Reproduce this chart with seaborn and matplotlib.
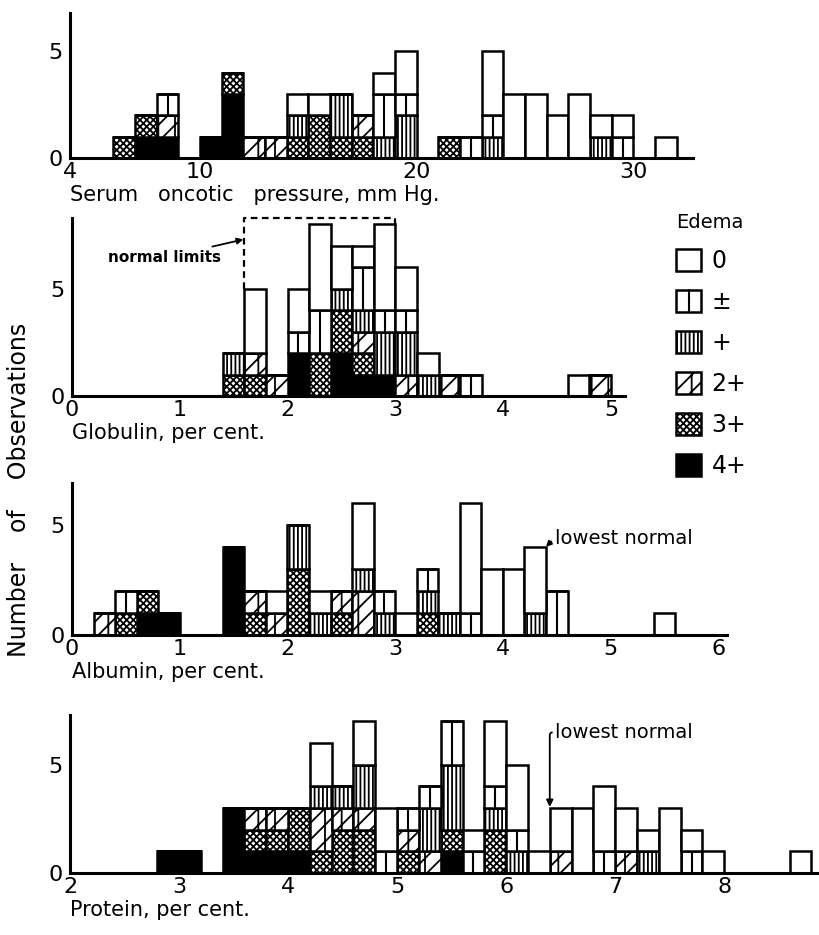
import numpy as np
import pandas as pd
import matplotlib
matplotlib.use("Agg")
import matplotlib.pyplot as plt
import seaborn as sns
from matplotlib.patches import Patch
from matplotlib.lines import Line2D
from matplotlib.legend_handler import HandlerPatch

# ---------------- data ----------------
edema_levels = ["0", "±", "+", "2+", "3+", "4+"]

# Serum oncotic pressure, mm Hg  (bins 1 mm Hg wide, left edges)
serum_left = [6, 7, 8, 10, 11, 12, 13, 14, 15, 16, 17, 18, 19, 21, 22, 23, 24, 25, 26, 27, 28, 29, 31]
serum_n0 = [0, 0, 0, 0, 0, 0, 0, 1, 1, 0, 0, 1, 2, 0, 0, 3, 3, 3, 2, 3, 1, 1, 1]
serum_npm = [0, 0, 1, 0, 0, 0, 0, 0, 0, 0, 0, 2, 1, 0, 1, 1, 0, 0, 0, 0, 0, 1, 0]
serum_n1 = [0, 0, 0, 0, 0, 0, 0, 1, 0, 2, 0, 1, 2, 0, 0, 1, 0, 0, 0, 0, 1, 0, 0]
serum_n2 = [0, 0, 1, 0, 0, 1, 1, 0, 0, 0, 1, 0, 0, 0, 0, 0, 0, 0, 0, 0, 0, 0, 0]
serum_n3 = [1, 1, 0, 0, 1, 0, 0, 1, 2, 1, 1, 0, 0, 1, 0, 0, 0, 0, 0, 0, 0, 0, 0]
serum_n4 = [0, 1, 1, 1, 3, 0, 0, 0, 0, 0, 0, 0, 0, 0, 0, 0, 0, 0, 0, 0, 0, 0, 0]

# Globulin, per cent (bins 0.2 wide)
glob_left = [1.4, 1.6, 1.8, 2.0, 2.2, 2.4, 2.6, 2.8, 3.0, 3.2, 3.4, 3.6, 4.6, 4.8]
glob_n0 = [0, 3, 0, 2, 4, 2, 1, 4, 2, 1, 0, 0, 1, 0]
glob_npm = [0, 0, 0, 1, 2, 0, 2, 1, 1, 0, 0, 1, 0, 0]
glob_n1 = [1, 0, 0, 0, 0, 1, 1, 2, 2, 1, 0, 0, 0, 0]
glob_n2 = [0, 1, 1, 0, 0, 0, 1, 0, 1, 0, 1, 0, 0, 1]
glob_n3 = [1, 1, 0, 0, 2, 2, 1, 0, 0, 0, 0, 0, 0, 0]
glob_n4 = [0, 0, 0, 2, 0, 2, 1, 1, 0, 0, 0, 0, 0, 0]
glob_normal = [1.6, 3.0]

# Albumin, per cent (bins 0.2 wide)
alb_left = [0.2, 0.4, 0.6, 0.8, 1.4, 1.6, 1.8, 2.0, 2.2, 2.4, 2.6, 2.8, 3.0, 3.2, 3.4, 3.6, 3.8, 4.0, 4.2, 4.4, 5.4]
alb_n0 = [0, 0, 0, 0, 0, 0, 1, 0, 1, 0, 3, 0, 1, 0, 0, 5, 3, 3, 3, 0, 1]
alb_npm = [0, 1, 0, 0, 0, 0, 0, 0, 0, 0, 0, 1, 0, 1, 0, 1, 0, 0, 0, 2, 0]
alb_n1 = [0, 0, 0, 0, 0, 0, 0, 2, 1, 0, 1, 1, 0, 1, 1, 0, 0, 0, 1, 0, 0]
alb_n2 = [1, 0, 0, 0, 0, 1, 1, 0, 0, 1, 2, 0, 0, 0, 0, 0, 0, 0, 0, 0, 0]
alb_n3 = [0, 1, 1, 0, 0, 1, 0, 3, 0, 1, 0, 0, 0, 1, 0, 0, 0, 0, 0, 0, 0]
alb_n4 = [0, 0, 1, 1, 4, 0, 0, 0, 0, 0, 0, 0, 0, 0, 0, 0, 0, 0, 0, 0, 0]
alb_lowest_normal = 4.4

# Protein, per cent (bins 0.2 wide)
prot_left = [2.8, 3.0, 3.4, 3.6, 3.8, 4.0, 4.2, 4.4, 4.6, 4.8, 5.0, 5.2, 5.4, 5.6, 5.8, 6.0, 6.2,
             6.4, 6.6, 6.8, 7.0, 7.2, 7.4, 7.6, 7.8, 8.6]
prot_n0 = [0, 0, 0, 0, 0, 0, 2, 0, 2, 2, 0, 0, 0, 1, 3, 3, 1, 2, 3, 3, 2, 1, 3, 1, 1, 1]
prot_npm = [0, 0, 0, 0, 0, 0, 0, 0, 0, 1, 1, 1, 2, 1, 1, 1, 0, 0, 0, 1, 0, 0, 0, 1, 0, 0]
prot_n1 = [0, 0, 0, 0, 0, 0, 1, 1, 2, 0, 0, 2, 3, 0, 1, 1, 0, 0, 0, 0, 0, 1, 0, 0, 0, 0]
prot_n2 = [0, 0, 0, 1, 1, 0, 2, 1, 1, 0, 1, 1, 0, 0, 0, 0, 0, 1, 0, 0, 1, 0, 0, 0, 0, 0]
prot_n3 = [0, 0, 0, 1, 1, 2, 1, 2, 2, 0, 1, 0, 1, 0, 2, 0, 0, 0, 0, 0, 0, 0, 0, 0, 0, 0]
prot_n4 = [1, 1, 3, 1, 1, 1, 0, 0, 0, 0, 0, 0, 1, 0, 0, 0, 0, 0, 0, 0, 0, 0, 0, 0, 0, 0]
prot_lowest_normal = 6.4

serum_ticks = [4, 10, 20, 30]
glob_ticks = [0, 1, 2, 3, 4, 5]
alb_ticks = [0, 1, 2, 3, 4, 5, 6]
prot_ticks = [2, 3, 4, 5, 6, 7, 8]

# ---------------- style ----------------
sns.set_style("white")
plt.rcParams["font.family"] = ["DejaVu Sans"]
plt.rcParams["hatch.linewidth"] = 1.3
plt.rcParams["hatch.color"] = "black"
for k in ["text.color", "axes.labelcolor", "xtick.color", "ytick.color", "axes.edgecolor"]:
    plt.rcParams[k] = "black"

STYLE = {
    "0": ("white", ""),
    "±": ("white", ""),
    "+": ("white", "||||"),
    "2+": ("white", "|//"),
    "3+": ("white", "xxxxx"),
    "4+": ("black", ""),
}
pal_colors = sns.color_palette("tab10", len(edema_levels))
palette = dict(zip(edema_levels, pal_colors))

W, H = 819, 935
fig = plt.figure(figsize=(W / 100, H / 100), dpi=100)


def px_axes(left, right, top, bottom):
    return fig.add_axes([left / W, 1 - bottom / H, (right - left) / W, (bottom - top) / H])


def long_form(left, width, cols):
    rows = []
    for lvl, counts in zip(edema_levels, cols):
        for x, c in zip(left, counts):
            if c:
                rows.append({"value": x + width / 2, "edema": lvl, "count": c})
    return pd.DataFrame(rows)


def draw_panel(ax, left, width, cols, xlim, ylim, xticks, xlabel):
    df = long_form(left, width, cols)
    lo = float(min(left))
    hi = float(max(left)) + width
    sns.histplot(data=df, x="value", weights="count", hue="edema", hue_order=edema_levels,
                 multiple="stack", binwidth=width, binrange=(lo, hi), palette=palette, alpha=1,
                 edgecolor="black", linewidth=1.8, legend=False, ax=ax)
    # restyle each stacked segment according to its edema level
    for p in list(ax.patches):
        rgb = np.array(p.get_facecolor()[:3])
        lvl = min(edema_levels, key=lambda k: np.sum((np.array(palette[k]) - rgb) ** 2))
        fc, hatch = STYLE[lvl]
        p.set_facecolor(fc)
        p.set_hatch(hatch)
        p.set_edgecolor("black")
        p.set_linewidth(1.8)
        if lvl == "±" and p.get_height() > 0:
            ax.vlines(p.get_x() + p.get_width() / 2, p.get_y(), p.get_y() + p.get_height(),
                      color="black", lw=1.5, zorder=p.get_zorder() + 0.1)
    ax.set_xlim(*xlim)
    ax.set_ylim(*ylim)
    ax.set_xticks(xticks)
    ax.set_xticklabels([str(t) for t in xticks])
    yt = list(range(0, int(ylim[1]) + 1))
    ax.set_yticks(yt)
    ax.set_yticklabels(["0" if t == 0 else ("5" if t == 5 else "") for t in yt])
    ax.tick_params(axis="x", length=0, labelsize=16, pad=3)
    ax.tick_params(axis="y", length=5, width=1.6, direction="out", labelsize=16, pad=0)
    for s in ["top", "right"]:
        ax.spines[s].set_visible(False)
    for s in ["left", "bottom"]:
        ax.spines[s].set_linewidth(2.2)
        ax.spines[s].set_color("black")
    ax.set_ylabel("")
    ax.set_xlabel(xlabel, loc="left", fontsize=15, labelpad=2)
    ax.set_facecolor("white")
    ax.grid(False)


ax1 = px_axes(70, 693, 13, 158)
draw_panel(ax1, serum_left, 1, [serum_n0, serum_npm, serum_n1, serum_n2, serum_n3, serum_n4],
           (4, 32.75), (0, 6.8), serum_ticks, "Serum   oncotic   pressure, mm Hg.")

ax2 = px_axes(72, 625, 218, 396)
glob_cols = [glob_n0, glob_npm, glob_n1, glob_n2, glob_n3, glob_n4]
draw_panel(ax2, glob_left, 0.2, glob_cols, (0, 5.13), (0, 8.3), glob_ticks, "Globulin, per cent.")

ax3 = px_axes(72, 727, 483, 635)
alb_cols = [alb_n0, alb_npm, alb_n1, alb_n2, alb_n3, alb_n4]
draw_panel(ax3, alb_left, 0.2, alb_cols, (0, 6.08), (0, 6.9), alb_ticks, "Albumin, per cent.")

ax4 = px_axes(70, 818, 715, 873)
prot_cols = [prot_n0, prot_npm, prot_n1, prot_n2, prot_n3, prot_n4]
draw_panel(ax4, prot_left, 0.2, prot_cols, (2, 8.86), (0, 7.3), prot_ticks, "Protein, per cent.")


def total_at(left, cols, x):
    i = int(np.argmin(np.abs(np.array(left) - x)))
    return sum(c[i] for c in cols)


# globulin normal limits (dashed)
g_lo, g_hi = glob_normal
h_lo = total_at(glob_left, glob_cols, g_lo)
h_hi = total_at(glob_left, glob_cols, g_hi - 0.2)
ytop = 8.28
ax2.plot([g_lo, g_lo, g_hi, g_hi], [h_lo, ytop, ytop, h_hi], ls=(0, (3, 2)), color="black",
         lw=1.6, clip_on=False, zorder=5)
ax2.annotate("normal limits", xy=(g_lo - 0.01, 7.3), xytext=(0.33, 6.45), fontsize=11,
             fontweight="bold", va="center", ha="left",
             arrowprops=dict(arrowstyle="-|>", lw=1.3, color="black", shrinkA=1, shrinkB=0,
                             mutation_scale=9))

# albumin lowest normal
a_h = total_at(alb_left, alb_cols, alb_lowest_normal - 0.2)
ax3.annotate("lowest normal", xy=(alb_lowest_normal, a_h), xytext=(alb_lowest_normal + 0.08, a_h + 0.4),
             fontsize=14, va="center", ha="left",
             arrowprops=dict(arrowstyle="-|>", lw=1.3, color="black", shrinkA=0, shrinkB=0,
                             mutation_scale=8, relpos=(0, 0.5)))

# protein lowest normal
p_h = total_at(prot_left, prot_cols, prot_lowest_normal)
ax4.annotate("lowest normal", xy=(prot_lowest_normal, p_h + 0.05), xytext=(prot_lowest_normal + 0.05, 6.5),
             fontsize=14, va="center", ha="left",
             arrowprops=dict(arrowstyle="-|>", lw=1.3, color="black", shrinkA=0, shrinkB=0,
                             mutation_scale=10, relpos=(0, 0.5),
                             connectionstyle="angle,angleA=180,angleB=90,rad=3"))

# shared y label
fig.text(19 / W, 1 - 490 / H, "Number    of    Observations", rotation=90, ha="center", va="center",
         fontsize=17)


# legend
class CenterLineHandler(HandlerPatch):
    def create_artists(self, legend, orig_handle, xdescent, ydescent, width, height, fontsize, trans):
        arts = super().create_artists(legend, orig_handle, xdescent, ydescent, width, height,
                                      fontsize, trans)
        x = -xdescent + width / 2
        line = Line2D([x, x], [-ydescent, -ydescent + height], color="black", lw=1.5, transform=trans)
        return arts + [line]


handles = []
handler_map = {}
for lvl in edema_levels:
    fc, hatch = STYLE[lvl]
    h = Patch(facecolor=fc, edgecolor="black", hatch=hatch, linewidth=1.8)
    handles.append(h)
    if lvl == "±":
        handler_map[h] = CenterLineHandler()
leg = fig.legend(handles, edema_levels, title="Edema", loc="upper left",
                 bbox_to_anchor=(655 / W, 1 - 192 / H), frameon=False, fontsize=17,
                 title_fontsize=14, handlelength=1.05, handleheight=1.05, handletextpad=0.45,
                 labelspacing=0.72, alignment="left", handler_map=handler_map)

fig.savefig("out.png", dpi=100, facecolor="white")
